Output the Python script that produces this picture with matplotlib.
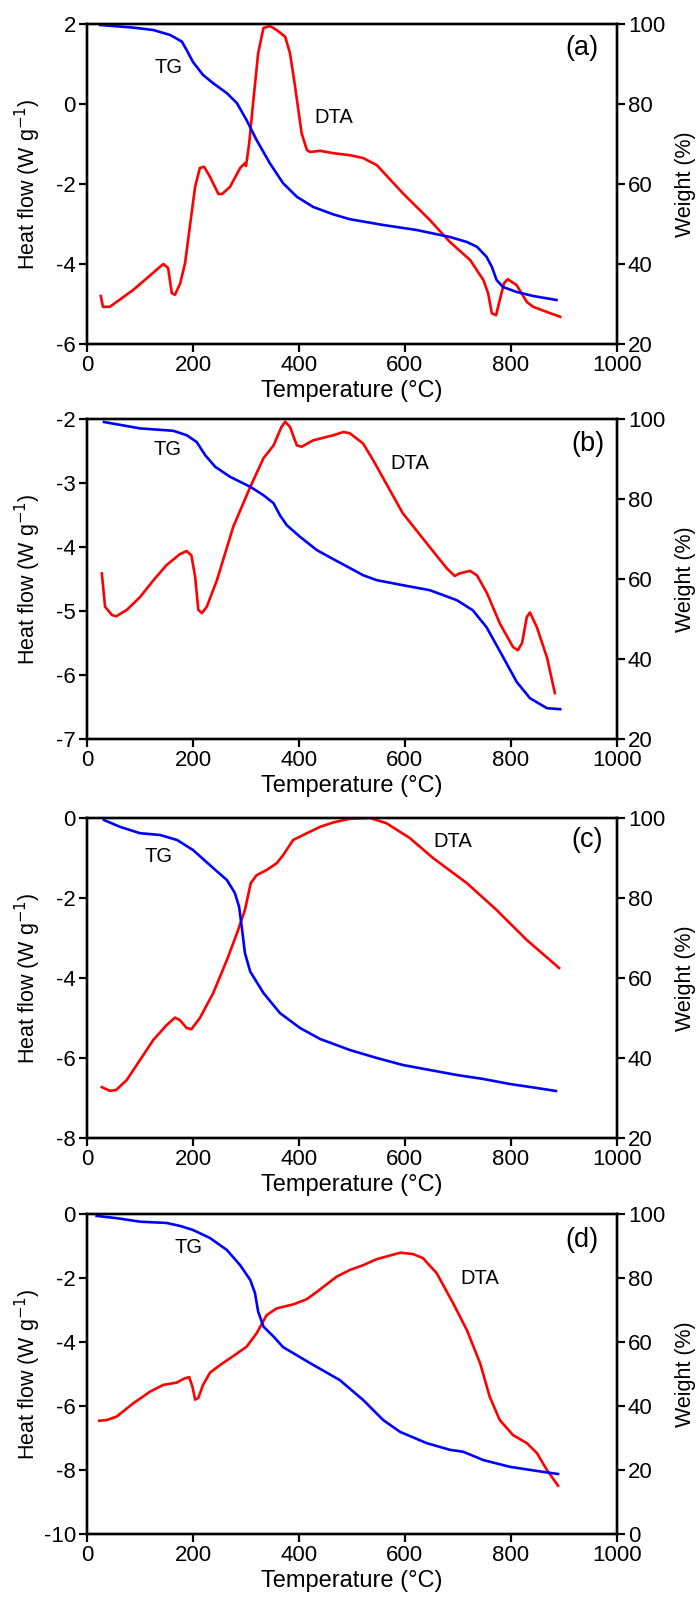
import matplotlib
matplotlib.use('Agg')
import matplotlib.pyplot as plt

plt.rcParams['font.family'] = ['Liberation Sans', 'DejaVu Sans']
plt.rcParams['axes.unicode_minus'] = False

# ---- panel (a) ----
a_dta_t = [26, 30, 43, 87, 144, 153, 160, 166, 176, 185, 194, 204, 213, 221, 232, 248, 255, 270,
           289, 298, 300, 306, 314, 323, 333, 345, 358, 374, 383, 392, 405, 415, 421, 440, 465,
           496, 521, 547, 596, 647, 685, 723, 748, 757, 764, 772, 779, 787, 794, 811, 830, 842,
           868, 893]
a_dta_v = [-4.8, -5.07, -5.07, -4.65, -4.0, -4.1, -4.73, -4.77, -4.48, -3.98, -3.07, -2.07, -1.6,
           -1.57, -1.82, -2.25, -2.25, -2.07, -1.6, -1.48, -1.55, -0.99, 0.1, 1.27, 1.9, 1.95,
           1.85, 1.68, 1.27, 0.5, -0.73, -1.15, -1.2, -1.17, -1.23, -1.28, -1.35, -1.53, -2.23,
           -2.9, -3.45, -3.9, -4.4, -4.73, -5.23, -5.28, -4.9, -4.48, -4.38, -4.53, -4.95, -5.07,
           -5.2, -5.32]
a_tg_t = [25, 87, 125, 157, 179, 188, 200, 219, 238, 264, 283, 301, 320, 345, 370, 396, 427, 465,
          496, 559, 622, 685, 717, 736, 754, 764, 773, 785, 811, 842, 886]
a_tg_w = [99.75, 99.1, 98.5, 97.25, 95.6, 93.5, 90.5, 87.25, 85.2, 82.7, 80.2, 76, 71, 65.2, 60.2,
          56.8, 54.25, 52.4, 51.2, 49.75, 48.5, 46.75, 45.5, 44.3, 41.8, 39.3, 36, 34.25, 33, 32, 31]

# ---- panel (b) ----
b_dta_t = [28, 34, 47, 55, 75, 100, 125, 150, 175, 188, 197, 204, 210, 217, 226, 245, 276, 308,
           333, 352, 367, 374, 383, 396, 405, 427, 465, 484, 496, 521, 540, 596, 647, 679, 694,
           703, 723, 736, 755, 779, 804, 813, 821, 830, 836, 849, 868, 883]
b_dta_v = [-4.41, -4.93, -5.06, -5.08, -4.98, -4.78, -4.52, -4.28, -4.11, -4.06, -4.13, -4.46,
           -4.98, -5.03, -4.93, -4.52, -3.68, -3.06, -2.61, -2.41, -2.12, -2.04, -2.12, -2.41,
           -2.43, -2.33, -2.25, -2.2, -2.22, -2.38, -2.64, -3.47, -4.0, -4.33, -4.45, -4.41,
           -4.37, -4.44, -4.72, -5.19, -5.56, -5.61, -5.5, -5.09, -5.02, -5.25, -5.72, -6.28]
b_tg_t = [32, 100, 163, 188, 207, 223, 242, 270, 308, 333, 352, 364, 377, 402, 434, 465, 496,
          521, 547, 596, 647, 698, 728, 754, 785, 811, 836, 868, 893]
b_tg_w = [99.3, 97.7, 97.1, 96, 94.3, 91, 88.1, 85.6, 83.1, 81, 79, 76, 73.5, 70.6, 67.25, 65,
          62.8, 61, 59.75, 58.5, 57.25, 54.75, 52.25, 48, 40.6, 34.3, 30.25, 27.75, 27.5]

# ---- panel (c) ----
c_dta_t = [28, 43, 55, 75, 100, 125, 150, 166, 175, 188, 197, 213, 238, 264, 283, 298, 309, 320,
           339, 358, 370, 389, 415, 440, 465, 496, 534, 565, 609, 653, 717, 773, 830, 891]
c_dta_v = [-6.73, -6.82, -6.8, -6.55, -6.05, -5.55, -5.18, -4.99, -5.05, -5.25, -5.28, -5.0,
           -4.38, -3.55, -2.88, -2.3, -1.63, -1.43, -1.3, -1.13, -0.93, -0.55, -0.38, -0.22,
           -0.11, -0.02, 0.0, -0.13, -0.5, -1.0, -1.63, -2.3, -3.05, -3.75]
c_tg_t = [32, 62, 100, 138, 170, 200, 238, 264, 279, 287, 292, 298, 308, 333, 364, 402, 440,
          496, 547, 596, 647, 698, 748, 798, 849, 885]
c_tg_w = [99.5, 97.8, 96.2, 95.75, 94.5, 92, 87.5, 84.5, 81.25, 77.8, 72.8, 66.25, 61.6, 56.25,
          51.25, 47.5, 44.75, 42, 40, 38.25, 37, 35.75, 34.75, 33.5, 32.5, 31.75]

# ---- panel (d) ----
d_dta_t = [23, 37, 56, 87, 119, 144, 169, 185, 193, 199, 204, 210, 219, 232, 251, 276, 301, 320,
           339, 358, 390, 415, 434, 471, 496, 521, 547, 591, 615, 634, 660, 691, 717, 742,
           760, 779, 804, 830, 849, 868, 889]
d_dta_v = [-6.46, -6.44, -6.33, -5.92, -5.55, -5.34, -5.27, -5.13, -5.1, -5.4, -5.8, -5.75,
           -5.34, -4.96, -4.72, -4.44, -4.15, -3.73, -3.16, -2.95, -2.82, -2.66, -2.43, -1.96,
           -1.75, -1.6, -1.41, -1.21, -1.25, -1.38, -1.85, -2.79, -3.63, -4.67, -5.71,
           -6.44, -6.91, -7.16, -7.47, -8.0, -8.49]
d_tg_t = [18, 56, 100, 150, 176, 200, 232, 264, 289, 308, 317, 323, 333, 352, 370, 421, 477, 521,
          559, 591, 641, 685, 710, 748, 798, 849, 889]
d_tg_w = [99.4, 98.7, 97.6, 97.2, 96.25, 95, 92.5, 88.75, 84, 79.4, 75.3, 69.5, 64.8, 61.7, 58.4,
          53.4, 48.1, 41.9, 35.6, 31.9, 28.4, 26.3, 25.7, 23.1, 21, 19.7, 18.75]

panels = [
    dict(tag='(a)', dta=(a_dta_t, a_dta_v), tg=(a_tg_t, a_tg_w), hf=(-6, 2, 2), wt=(20, 100),
         tg_pos=(153, 0.9), dta_pos=(466, -0.33), tag_pos=(934, 1.4), bottom=0.785),
    dict(tag='(b)', dta=(b_dta_t, b_dta_v), tg=(b_tg_t, b_tg_w), hf=(-7, -2, 1), wt=(20, 100),
         tg_pos=(151, -2.48), dta_pos=(609, -2.69), tag_pos=(945, -2.38), bottom=0.538),
    dict(tag='(c)', dta=(c_dta_t, c_dta_v), tg=(c_tg_t, c_tg_w), hf=(-8, 0, 2), wt=(20, 100),
         tg_pos=(134, -0.95), dta_pos=(691, -0.58), tag_pos=(943, -0.55), bottom=0.28875),
    dict(tag='(d)', dta=(d_dta_t, d_dta_v), tg=(d_tg_t, d_tg_w), hf=(-10, 0, 2), wt=(0, 100),
         tg_pos=(191, -1.06), dta_pos=(742, -2.03), tag_pos=(934, -0.81), bottom=0.04125),
]

fig = plt.figure(figsize=(6.99, 16), dpi=100)

for p in panels:
    ax = fig.add_axes([0.1245, p['bottom'], 0.758, 0.2])
    ax2 = ax.twinx()

    ax.plot(*p['dta'], color='#ff0000', lw=1.9, zorder=3)
    ax2.plot(*p['tg'], color='#0000ff', lw=1.9, zorder=2)

    lo, hi, step = p['hf']
    ax.set_ylim(lo, hi)
    ax.set_yticks(range(lo, hi + 1, step))
    ax.set_xlim(0, 1000)
    ax.set_xticks(range(0, 1001, 200))
    ax2.set_ylim(*p['wt'])
    ax2.set_yticks(range(p['wt'][0], p['wt'][1] + 1, 20))

    for a in (ax, ax2):
        for s in a.spines.values():
            s.set_linewidth(1.7)
        a.tick_params(direction='out', length=5.5, width=1.6, pad=2.5, labelsize=16)

    ax.set_xlabel('Temperature (°C)', fontsize=17)
    ax.set_ylabel('Heat flow (W g$^{-1}$)', fontsize=15.5)
    ax2.set_ylabel('Weight (%)', fontsize=15.5)
    ax.xaxis.set_label_coords(0.5, -0.112)
    ax.yaxis.set_label_coords(-0.083, 0.5)
    ax2.yaxis.set_label_coords(1.109, 0.5)

    ax.text(*p['tg_pos'], 'TG', fontsize=14.5, ha='center', va='center')
    ax.text(*p['dta_pos'], 'DTA', fontsize=14.5, ha='center', va='center')
    ax.text(*p['tag_pos'], p['tag'], fontsize=19.5, ha='center', va='center')

fig.savefig('out.png', dpi=100)
